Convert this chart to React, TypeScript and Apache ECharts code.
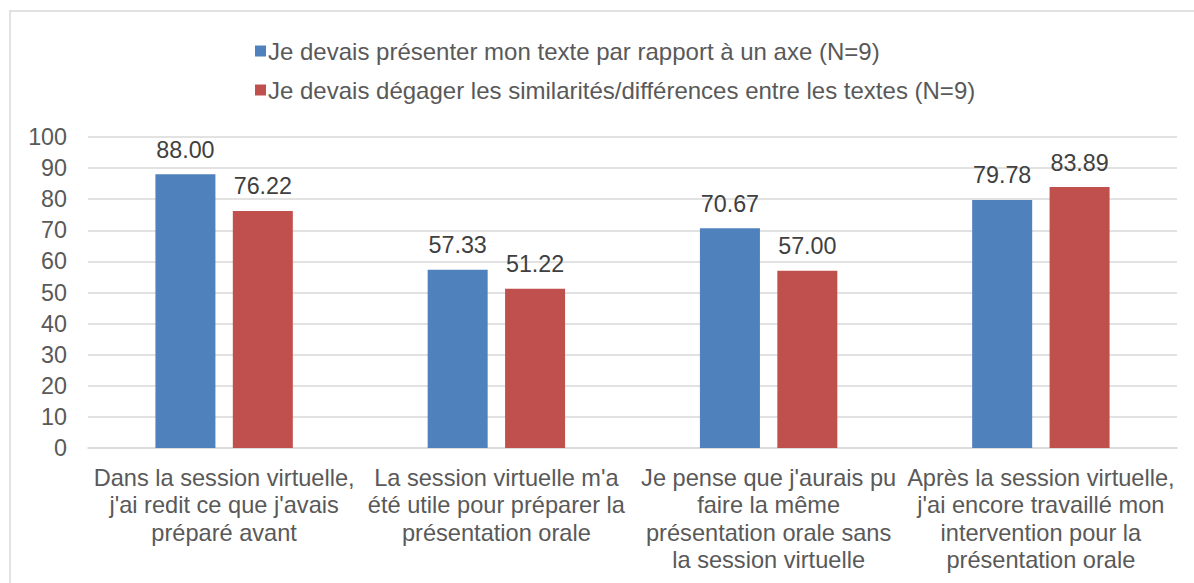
import React, { useEffect, useRef } from "react";
import * as echarts from "echarts";

const categories = [
  "Dans la session virtuelle,\nj'ai redit ce que j'avais\npréparé avant",
  "La session virtuelle m'a\nété utile pour préparer la\nprésentation orale",
  "Je pense que j'aurais pu\nfaire la même\nprésentation orale sans\nla session virtuelle",
  "Après la session virtuelle,\nj'ai encore travaillé mon\nintervention pour la\nprésentation orale",
];
const seriesNames = [
  "Je devais présenter mon texte par rapport à un axe (N=9)",
  "Je devais dégager les similarités/différences entre les textes (N=9)",
];
const seriesA = [88.0, 57.33, 70.67, 79.78];
const seriesB = [76.22, 51.22, 57.0, 83.89];
const colors = ["#4f81bd", "#c0504d"];

const FONT = "'Liberation Sans', Arial, sans-serif";

export default function App() {
  const ref = useRef<HTMLDivElement>(null);
  useEffect(() => {
    document.body.style.margin = "0";
    const chart = echarts.init(ref.current!, null, { renderer: "svg" });
    const label = {
      show: true,
      position: "top" as const,
      distance: 13,
      color: "#404040",
      fontSize: 23.3,
      fontFamily: FONT,
      formatter: (p: any) => Number(p.value).toFixed(2),
    };
    chart.setOption({
      animation: false,
      backgroundColor: "#ffffff",
      textStyle: { fontFamily: FONT },
      graphic: [
        {
          type: "rect",
          shape: { x: 10, y: 11, width: 1300, height: 700 },
          style: { fill: "none", stroke: "#d9d9d9", lineWidth: 1.5 },
          silent: true,
        },
      ],
      legend: {
        orient: "vertical",
        left: 250,
        top: 34,
        itemWidth: 11,
        itemHeight: 11,
        itemGap: 15,
        icon: "rect",
        textStyle: {
          fontSize: 24,
          color: "#595959",
          fontFamily: FONT,
          lineHeight: 24,
          padding: [0, 0, 0, -3],
        },
        data: seriesNames,
      },
      grid: { left: 88, right: 17, top: 137, bottom: 135, containLabel: false },
      xAxis: {
        type: "category",
        data: categories,
        axisLine: { lineStyle: { color: "#d9d9d9", width: 1.5 } },
        axisTick: { show: false },
        axisLabel: {
          interval: 0,
          color: "#595959",
          fontSize: 23.6,
          fontFamily: FONT,
          lineHeight: 27.5,
          margin: 16,
        },
      },
      yAxis: {
        type: "value",
        min: 0,
        max: 100,
        interval: 10,
        axisLine: { show: false },
        axisTick: { show: false },
        splitLine: { lineStyle: { color: "#d9d9d9", width: 1.5 } },
        axisLabel: { color: "#595959", fontSize: 23.3, fontFamily: FONT, margin: 21 },
      },
      series: [
        {
          name: seriesNames[0],
          type: "bar",
          data: seriesA,
          barWidth: 60,
          barGap: "29%",
          itemStyle: { color: colors[0] },
          label,
        },
        {
          name: seriesNames[1],
          type: "bar",
          data: seriesB,
          barWidth: 60,
          barGap: "29%",
          itemStyle: { color: colors[1] },
          label,
        },
      ],
    });
    return () => chart.dispose();
  }, []);
  return (
    <div
      ref={ref}
      style={{ position: "fixed", left: 0, top: 0, width: 1194, height: 583 }}
    />
  );
}
